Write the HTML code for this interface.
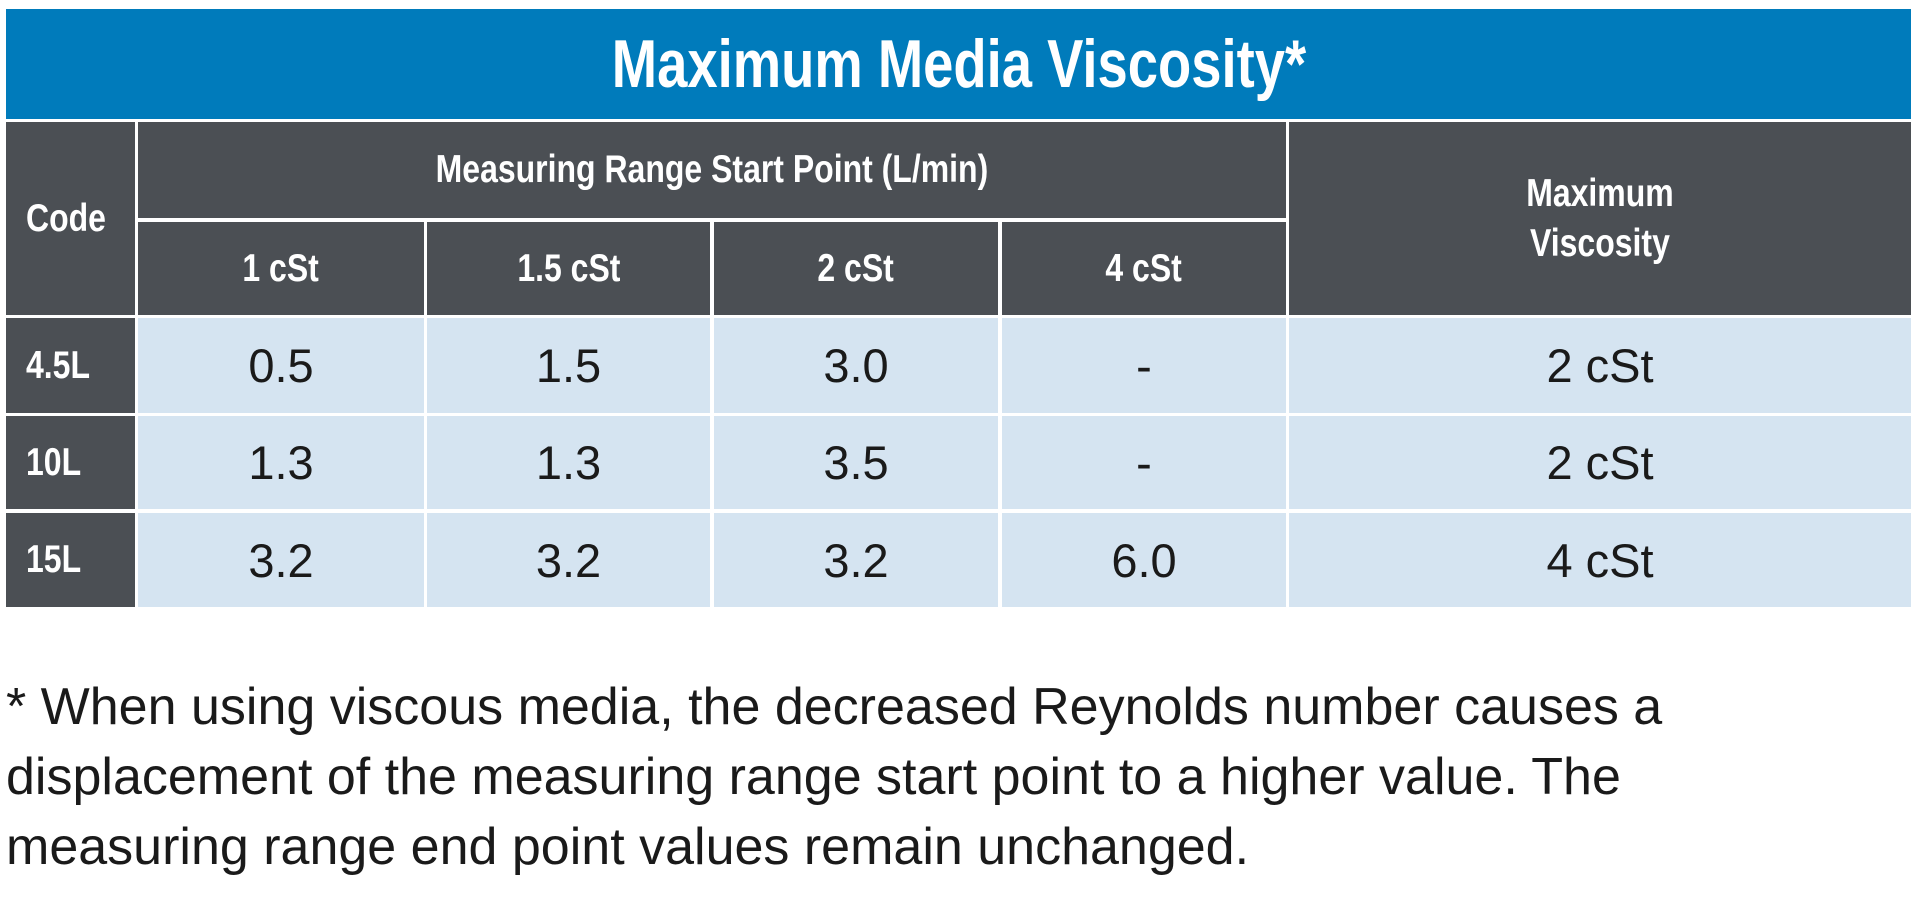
<!DOCTYPE html>
<html><head><meta charset="utf-8"><style>
body{margin:0;width:1920px;height:923px;background:#fff;position:relative;overflow:hidden;font-family:"Liberation Sans",sans-serif}
.c{position:absolute;display:flex;align-items:center;justify-content:center;text-align:center;box-sizing:border-box}
.c span{display:inline-block}
.t{background:#007bbb;color:#fff;font-weight:bold;font-size:68px}
.t span{transform:scaleX(0.8)}
.h{background:#4b4f54;color:#fff;font-weight:bold;font-size:39px;line-height:50px}
.h span{transform:scaleX(0.82)}
.hl span{transform-origin:left center}
.d{background:#d5e4f1;color:#1a1a1a;font-size:47px}
.n{position:absolute;left:6px;top:672px;font-size:52px;line-height:70px;color:#1a1a1a;width:1910px;white-space:nowrap}
</style></head><body>
<div class="c t" style="left:6px;top:9px;width:1905px;height:110px"><span>Maximum Media Viscosity*</span></div>
<div class="c h hl" style="left:6px;top:122px;width:129px;height:193px;justify-content:flex-start;padding-left:20px"><span>Code</span></div>
<div class="c h" style="left:138px;top:122px;width:1148px;height:96px"><span>Measuring Range Start Point (L/min)</span></div>
<div class="c h" style="left:1289px;top:122px;width:622px;height:193px"><span>Maximum<br>Viscosity</span></div>
<div class="n">* When using viscous media, the decreased Reynolds number causes a<br>displacement of the measuring range start point to a higher value. The<br>measuring range end point values remain unchanged.</div>
<script>
const subHeaders=["1 cSt","1.5 cSt","2 cSt","4 cSt"];
const codes=["4.5L","10L","15L"];
const values=[["0.5","1.5","3.0","-"],["1.3","1.3","3.5","-"],["3.2","3.2","3.2","6.0"]];
const maxVisc=["2 cSt","2 cSt","4 cSt"];
const colX=[138,427,714,1002],colW=[286,283,284,284];
const rowY=[318,416,513],rowH=[95,93,94];
function cell(cls,x,y,w,h,txt,name,extra){
 const d=document.createElement('div');d.className='c '+cls;
 d.style.cssText=`left:${x}px;top:${y}px;width:${w}px;height:${h}px;`+(extra||'');
 const s=document.createElement('span');s.textContent=txt;d.appendChild(s);
 
 
 document.body.appendChild(d);}
subHeaders.forEach((s,i)=>cell('h',colX[i],222,colW[i],93,s,'sub-header'));
codes.forEach((c,r)=>{
 cell('h hl',6,rowY[r],129,rowH[r],c,'code-cell','justify-content:flex-start;padding-left:20px;');
 values[r].forEach((v,i)=>cell('d',colX[i],rowY[r],colW[i],rowH[r],v,'value-cell'));
 cell('d',1289,rowY[r],622,rowH[r],maxVisc[r],'max-viscosity-cell');
});
</script>
</body></html>
